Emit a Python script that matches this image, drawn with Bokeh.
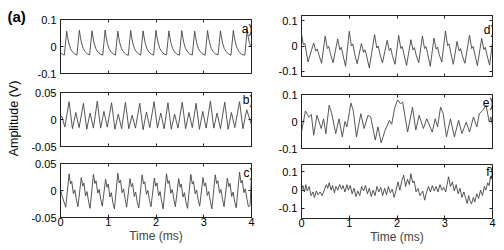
import math
from bokeh.plotting import figure
from bokeh.layouts import row, column
from bokeh.models import Range1d, LinearAxis, FixedTicker, Label, NumeralTickFormatter
from bokeh.embed import file_html
from bokeh.resources import INLINE

FONT = "Liberation Sans"

# ---------------- data ----------------
x_ticks = [0, 1, 2, 3, 4]

a_t = [0.00, 0.04, 0.08, 0.13, 0.15, 0.175, 0.21, 0.25, 0.30,
       0.345, 0.395, 0.415, 0.44, 0.475, 0.515, 0.565,
       0.61, 0.66, 0.68, 0.705, 0.74, 0.78, 0.83,
       0.885, 0.935, 0.955, 0.98, 1.015, 1.055, 1.105,
       1.15, 1.20, 1.22, 1.245, 1.28, 1.32, 1.37,
       1.42, 1.47, 1.49, 1.515, 1.55, 1.59, 1.64,
       1.68, 1.73, 1.75, 1.775, 1.81, 1.85, 1.90,
       1.95, 2.00, 2.02, 2.045, 2.08, 2.12, 2.17,
       2.22, 2.27, 2.29, 2.315, 2.35, 2.39, 2.44,
       2.49, 2.54, 2.56, 2.585, 2.62, 2.66, 2.71,
       2.76, 2.81, 2.83, 2.855, 2.89, 2.93, 2.98,
       3.03, 3.08, 3.10, 3.125, 3.16, 3.20, 3.25,
       3.30, 3.35, 3.37, 3.395, 3.43, 3.47, 3.52,
       3.57, 3.62, 3.64, 3.665, 3.70, 3.74, 3.79,
       3.86, 3.91, 3.93, 3.955, 3.98, 4.00]
a_v = [-0.022, -0.029, -0.032, 0.057, 0.034, 0.012, -0.008, -0.020, -0.028,
       -0.032, 0.060, 0.036, 0.013, -0.007, -0.019, -0.028,
       -0.031, 0.058, 0.035, 0.012, -0.008, -0.020, -0.028,
       -0.032, 0.061, 0.037, 0.013, -0.007, -0.019, -0.028,
       -0.032, 0.057, 0.034, 0.011, -0.008, -0.020, -0.029,
       -0.033, 0.059, 0.035, 0.012, -0.008, -0.020, -0.028,
       -0.032, 0.058, 0.035, 0.012, -0.008, -0.020, -0.028,
       -0.032, 0.060, 0.036, 0.013, -0.007, -0.019, -0.028,
       -0.031, 0.058, 0.034, 0.012, -0.008, -0.020, -0.029,
       -0.032, 0.059, 0.035, 0.012, -0.008, -0.020, -0.028,
       -0.032, 0.057, 0.034, 0.011, -0.008, -0.020, -0.028,
       -0.032, 0.059, 0.035, 0.012, -0.008, -0.020, -0.028,
       -0.031, 0.058, 0.035, 0.012, -0.008, -0.019, -0.028,
       -0.032, 0.060, 0.036, 0.013, -0.007, -0.019, -0.029,
       -0.032, 0.061, 0.037, 0.014, 0.002, -0.004]

b_t = [0.00, 0.03, 0.09,
       0.18, 0.25, 0.32, 0.39,
       0.48, 0.55, 0.62, 0.69,
       0.77, 0.84, 0.91, 0.98,
       1.07, 1.14, 1.21, 1.28,
       1.36, 1.43, 1.50, 1.57,
       1.66, 1.73, 1.80, 1.87,
       1.96, 2.03, 2.10, 2.17,
       2.25, 2.32, 2.39, 2.46,
       2.55, 2.62, 2.69, 2.76,
       2.84, 2.91, 2.98, 3.05,
       3.14, 3.21, 3.28, 3.35,
       3.44, 3.51, 3.58, 3.65,
       3.75, 3.82, 3.90,
       4.00]
b_v = [0.003, 0.006, -0.014,
       0.033, -0.017, 0.013, -0.015,
       0.030, -0.018, 0.012, -0.016,
       0.034, -0.016, 0.015, -0.014,
       0.031, -0.018, 0.010, -0.017,
       0.032, -0.017, 0.008, -0.016,
       0.030, -0.019, 0.014, -0.015,
       0.033, -0.016, 0.012, -0.017,
       0.031, -0.018, 0.010, -0.016,
       0.032, -0.017, 0.013, -0.015,
       0.030, -0.018, 0.015, -0.016,
       0.034, -0.016, 0.012, -0.017,
       0.032, -0.018, 0.013, -0.015,
       0.033, -0.017, 0.018,
       -0.010]

c_t = [0.00, 0.04, 0.11,
       0.18, 0.21, 0.235, 0.27, 0.30, 0.335, 0.365,
       0.435, 0.465, 0.49, 0.525, 0.555, 0.59, 0.62,
       0.69, 0.72, 0.745, 0.78, 0.81, 0.845, 0.875,
       0.945, 0.975, 1.0, 1.035, 1.065, 1.10, 1.13,
       1.20, 1.23, 1.255, 1.29, 1.32, 1.355, 1.385,
       1.455, 1.485, 1.51, 1.545, 1.575, 1.61, 1.64,
       1.71, 1.74, 1.765, 1.80, 1.83, 1.865, 1.895,
       1.965, 1.995, 2.02, 2.055, 2.085, 2.12, 2.15,
       2.22, 2.25, 2.275, 2.31, 2.34, 2.375, 2.405,
       2.475, 2.505, 2.53, 2.565, 2.595, 2.63, 2.66,
       2.73, 2.76, 2.785, 2.82, 2.85, 2.885, 2.915,
       2.985, 3.015, 3.04, 3.075, 3.105, 3.14, 3.17,
       3.24, 3.27, 3.295, 3.33, 3.36, 3.395, 3.425,
       3.495, 3.525, 3.55, 3.585, 3.615, 3.65, 3.68,
       3.75, 3.78, 3.805, 3.84, 3.87, 3.905, 3.935,
       3.97, 4.00]
c_v = [0.002, -0.012, -0.031,
       0.031, 0.012, 0.017, -0.006, 0.001, -0.018, -0.030,
       0.024, 0.008, 0.014, -0.010, -0.002, -0.022, -0.033,
       0.030, 0.013, 0.018, -0.005, 0.002, -0.017, -0.029,
       0.021, 0.006, 0.012, -0.012, -0.004, -0.024, -0.034,
       0.032, 0.014, 0.019, -0.004, 0.003, -0.016, -0.031,
       0.022, 0.007, 0.013, -0.011, -0.003, -0.023, -0.032,
       0.029, 0.012, 0.016, -0.007, 0.000, -0.019, -0.030,
       0.023, 0.008, 0.014, -0.010, -0.002, -0.021, -0.034,
       0.031, 0.013, 0.018, -0.005, 0.002, -0.017, -0.030,
       0.022, 0.006, 0.012, -0.012, -0.004, -0.023, -0.033,
       0.030, 0.012, 0.017, -0.006, 0.001, -0.018, -0.029,
       0.024, 0.008, 0.014, -0.009, -0.002, -0.021, -0.034,
       0.029, 0.013, 0.018, -0.005, 0.002, -0.017, -0.030,
       0.023, 0.007, 0.013, -0.011, -0.003, -0.022, -0.032,
       0.034, 0.014, 0.019, -0.004, 0.003, -0.016, -0.030,
       -0.028, 0.028]

d_t = [0.0, 0.04, 0.07, 0.137,
       0.255, 0.30, 0.33, 0.365, 0.42,
       0.496, 0.541, 0.571, 0.606, 0.661,
       0.758, 0.803, 0.833, 0.868, 0.923,
       1.00, 1.045, 1.075, 1.11, 1.165,
       1.255, 1.30, 1.33, 1.365, 1.42,
       1.531, 1.576, 1.606, 1.641, 1.696,
       1.794, 1.839, 1.869, 1.904, 1.959,
       2.035, 2.08, 2.11, 2.145, 2.20,
       2.29, 2.335, 2.365, 2.40, 2.455,
       2.532, 2.577, 2.607, 2.642, 2.697,
       2.774, 2.819, 2.849, 2.884, 2.939,
       3.015, 3.06, 3.09, 3.125, 3.18,
       3.257, 3.302, 3.332, 3.367, 3.422,
       3.519, 3.564, 3.594, 3.629, 3.684,
       3.774, 3.819, 3.849, 3.884, 3.939,
       4.0]
d_v = [0.045, 0.005, 0.010, -0.063,
       0.012, -0.020, -0.012, -0.035, -0.068,
       0.039, -0.010, -0.002, -0.030, -0.066,
       0.028, -0.015, -0.005, -0.035, -0.080,
       0.058, 0.000, 0.008, -0.028, -0.070,
       0.010, -0.025, -0.015, -0.040, -0.086,
       0.045, -0.008, 0.000, -0.030, -0.066,
       0.022, -0.018, -0.008, -0.038, -0.072,
       0.042, -0.010, -0.002, -0.032, -0.077,
       0.025, -0.015, -0.006, -0.035, -0.066,
       0.039, -0.010, -0.002, -0.030, -0.080,
       0.031, -0.012, -0.004, -0.034, -0.063,
       0.059, 0.002, 0.008, -0.026, -0.072,
       0.018, -0.020, -0.010, -0.038, -0.068,
       0.042, -0.010, -0.002, -0.032, -0.077,
       0.030, -0.014, -0.005, -0.035, -0.075,
       0.015]

e_t = [0.000, 0.082, 0.151, 0.206, 0.255, 0.324, 0.413, 0.462, 0.510, 0.579,
       0.634, 0.717, 0.786, 0.855, 0.910, 0.950, 1.035, 1.083, 1.152, 1.242,
       1.310, 1.393, 1.449, 1.545, 1.600, 1.669, 1.752, 1.842, 1.890, 1.950,
       2.014, 2.070, 2.118, 2.222, 2.325, 2.394, 2.463, 2.553, 2.622, 2.739,
       2.800, 2.850, 2.912, 2.967, 3.036, 3.119, 3.202, 3.291, 3.360, 3.450,
       3.519, 3.602, 3.671, 3.726, 3.795, 3.864, 3.933, 3.967, 4.000]
e_v = [-0.039, 0.039, 0.017, 0.026, -0.051, 0.023, -0.026, 0.010, -0.045, 0.060,
       0.029, -0.045, 0.010, -0.057, 0.000, -0.020, 0.068, 0.041, -0.057, 0.029,
       -0.026, 0.023, 0.017, -0.069, -0.020, -0.079, -0.032, 0.004, -0.010, 0.050,
       0.080, 0.066, 0.072, -0.039, 0.053, -0.032, 0.023, -0.026, 0.010, -0.039,
       0.010, -0.020, 0.053, 0.029, -0.057, 0.010, -0.057, 0.004, -0.045, -0.002,
       -0.039, 0.017, -0.020, 0.029, 0.041, 0.060, -0.002, 0.017, -0.014]

f_t = [0.00, 0.03, 0.06, 0.09, 0.12, 0.16, 0.20, 0.24, 0.27, 0.31, 0.35, 0.39, 0.43, 0.47,
       0.52, 0.55, 0.58, 0.62, 0.65, 0.69, 0.72, 0.76, 0.80, 0.84, 0.87, 0.91,
       0.95, 0.98, 1.02, 1.06, 1.10, 1.14, 1.18, 1.22, 1.26, 1.30, 1.34, 1.38,
       1.42, 1.46, 1.50, 1.54, 1.58, 1.62, 1.66, 1.70, 1.74, 1.78, 1.82, 1.86, 1.90, 1.94,
       1.98, 2.02, 2.06, 2.10, 2.14, 2.18, 2.22, 2.26, 2.29, 2.33, 2.36, 2.40, 2.44, 2.48,
       2.54, 2.58, 2.62, 2.66, 2.70, 2.74, 2.78, 2.82, 2.86, 2.90, 2.94, 2.98,
       3.02, 3.05, 3.08, 3.12, 3.16, 3.20, 3.24, 3.28, 3.32, 3.36, 3.40, 3.44, 3.47,
       3.50, 3.53, 3.56, 3.60, 3.63, 3.67, 3.71, 3.75, 3.79, 3.83, 3.86, 3.90, 3.93, 3.96, 4.00]
f_v = [0.000, 0.025, -0.010, 0.030, -0.005, 0.020, -0.030, -0.010, -0.040, -0.005, -0.025, -0.010, -0.030, -0.005,
       0.030, 0.010, 0.040, 0.000, 0.025, -0.015, 0.020, 0.000, 0.030, 0.005, 0.025, -0.010,
       0.030, 0.000, 0.025, -0.020, 0.010, -0.035, -0.005, -0.030, 0.020, -0.005, 0.025, -0.020,
       0.010, -0.035, 0.000, -0.030, 0.020, -0.010, 0.015, -0.030, 0.010, -0.025, 0.020, -0.015, 0.005, -0.040,
       0.000, 0.045, 0.000, 0.050, 0.082, 0.020, 0.060, 0.030, 0.090, 0.040, 0.050, -0.010, 0.010, -0.030,
       -0.005, -0.055, -0.010, 0.020, -0.010, 0.025, -0.005, 0.020, -0.010, 0.030, 0.000, 0.015,
       -0.010, 0.030, 0.073, 0.020, 0.045, -0.005, 0.030, -0.020, 0.010, -0.040, -0.010, -0.045, -0.073,
       -0.030, -0.060, -0.075, -0.040, -0.065, -0.020, -0.045, 0.000, -0.030, 0.020, 0.000, 0.040, 0.025, 0.075, 0.060]

ticks_01 = [-0.1, 0, 0.1]
ticks_005 = [-0.05, 0, 0.05]

for tt, vv in [(a_t, a_v), (b_t, b_v), (c_t, c_v), (d_t, d_v), (e_t, e_v), (f_t, f_v)]:
    assert len(tt) == len(vv), (len(tt), len(vv))

# ---------------- drawing ----------------
LINE = "#444444"
FRAME = "#222222"
TOTAL_H = 246


def make_axis(ticks, show, standoff=4, size="11px"):
    ax = LinearAxis(ticker=FixedTicker(ticks=ticks))
    ax.axis_line_color = None
    ax.major_tick_in = 3
    ax.major_tick_out = 0
    ax.minor_tick_line_color = None
    ax.major_tick_line_color = FRAME
    ax.formatter = NumeralTickFormatter(format="0.[00]")
    if show:
        ax.major_label_standoff = standoff
        ax.major_label_text_font = FONT
        ax.major_label_text_font_size = size
        ax.major_label_text_color = "black"
    else:
        ax.major_label_standoff = 0
        ax.major_label_text_font_size = "1px"
        ax.major_label_text_color = None
    return ax


def panel(t, v, ylim, yticks, tag, tag_dx, tag_dy, w, h, bl, br, bt, bb, show_x=False):
    p = figure(width=w, height=h, output_backend="svg", toolbar_location=None,
               x_range=Range1d(0, 4), y_range=Range1d(ylim[0], ylim[1]),
               x_axis_location=None, y_axis_location=None,
               min_border_left=bl, min_border_right=br,
               min_border_top=bt, min_border_bottom=bb,
               background_fill_color="white", border_fill_color="white",
               outline_line_color=FRAME, outline_line_width=1)
    p.grid.visible = False
    fw = w - bl - br
    fh = h - bt - bb

    p.add_layout(make_axis(yticks, True, standoff=4, size="11px"), "left")
    p.add_layout(make_axis(yticks, False), "right")
    bottom = make_axis(x_ticks, show_x, standoff=0, size="11px")
    if show_x:
        bottom.axis_label = "Time (ms)"
        bottom.axis_label_text_font = FONT
        bottom.axis_label_text_font_size = "12px"
        bottom.axis_label_text_font_style = "normal"
        bottom.axis_label_standoff = 0
    p.add_layout(bottom, "below")
    p.add_layout(make_axis(x_ticks, False), "above")

    p.line(x=t, y=v, line_color=LINE, line_width=0.9)

    p.add_layout(Label(x=fw + tag_dx, y=fh - tag_dy, x_units="screen", y_units="screen",
                       text=tag, text_align="right", text_baseline="top",
                       text_font=FONT, text_font_size="12px", text_color="black"))
    return p


# left strip holding "(a)" and the shared y title
strip = figure(width=28, height=TOTAL_H, output_backend="svg", toolbar_location=None,
               x_range=Range1d(0, 1), y_range=Range1d(0, 1),
               x_axis_location=None, y_axis_location=None,
               min_border_left=0, min_border_right=0, min_border_top=0, min_border_bottom=0,
               outline_line_color=None, background_fill_color="white",
               border_fill_color="white")
strip.grid.visible = False
strip.add_layout(Label(x=7, y=TOTAL_H - 16, x_units="screen", y_units="screen",
                       text="(a)", text_align="left", text_baseline="middle",
                       text_font=FONT, text_font_size="15px", text_font_style="bold",
                       text_color="black"))
strip.add_layout(Label(x=13, y=TOTAL_H - 118, x_units="screen", y_units="screen",
                       text="Amplitude (V)", text_align="center", text_baseline="middle",
                       angle=math.pi / 2,
                       text_font=FONT, text_font_size="12.5px", text_color="black"))

# left column: frames at x 58-251; a 19-73, b 92-146, c 163-217
pa = panel(a_t, a_v, (-0.1, 0.1), ticks_01, "a)", -1, 2, 247, 82, 30, 24, 19, 9)
pb = panel(b_t, b_v, (-0.05, 0.05), ticks_005, "b)", 0, 0, 247, 72, 30, 24, 10, 8)
pc = panel(c_t, c_v, (-0.05, 0.05), ticks_005, "c)", 0, 2, 247, 92, 30, 24, 9, 29, show_x=True)

# right column: frames at x 299-492; d 15-76, e 94-148, f 164-218
pd_ = panel(d_t, d_v, (-0.12, 0.12), ticks_01, "d)", 0, 7, 221, 85, 24, 4, 15, 9)
pe = panel(e_t, e_v, (-0.1, 0.1), ticks_01, "e)", -1, 1, 221, 71, 24, 4, 9, 8)
pf = panel(f_t, f_v, (-0.155, 0.14), ticks_01, "f)", -1, 0, 221, 90, 24, 4, 8, 28, show_x=True)

layout = row(strip, column(pa, pb, pc), column(pd_, pe, pf))

open("out.html", "w").write(file_html(layout, INLINE))
